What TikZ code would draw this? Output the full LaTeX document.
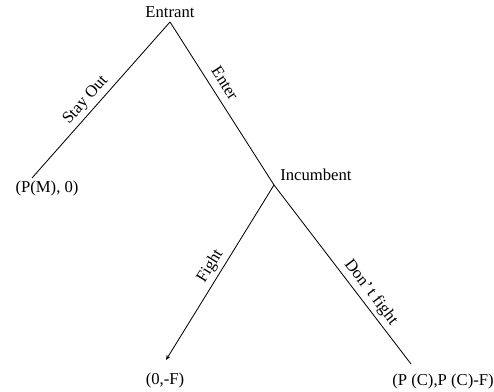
\documentclass[tikz,border=0pt]{standalone}
\usepackage{fontspec}
\setmainfont{Liberation Serif}
\usetikzlibrary{arrows.meta, positioning}
\tikzset{
  branch/.style={draw=black, line width=0.5pt},
  move/.style={font=\fontsize{10}{12}\selectfont, sloped, above, inner sep=2pt},
  payoff/.style={font=\fontsize{10}{12}\selectfont, inner sep=0pt},
  player/.style={font=\fontsize{10}{12}\selectfont, inner sep=0pt}
}

\begin{document}
\begin{tikzpicture}[x=0.6pt, y=-0.6pt]
  \useasboundingbox (0,0) rectangle (494,392);

  % decision points and ends of the tree
  \coordinate (root) at (170,22);
  \coordinate (inc) at (274,185);
  \coordinate (outEnd) at (32,178);
  \coordinate (fightEnd) at (166,360);
  \coordinate (accEnd) at (411,364);

  \node[player] (entrant) at (170,12) {Entrant};
  \node[player, anchor=west] (incumbent) at (280,175) {Incumbent};
  \node[payoff] (payOut) at (47,188) {(P(M), 0)};
  \node[payoff] (payFight) at (165,380) {(0,-F)};
  \node[payoff] (payAcc) at (443,381) {(P (C),P (C)-F)};

  % branches
  \draw[branch] (outEnd) -- node[move, pos=0.45] {Stay Out} (root);
  \draw[branch] (root) -- node[move, pos=0.42, inner sep=4.5pt] {Enter} (inc);
  \draw[branch, {Stealth[length=3pt, width=2.5pt]}-] (fightEnd) -- node[move, pos=0.5] {Fight} (inc);
  \draw[branch] (inc) -- node[move, pos=0.64] {Don'\,t fight} (accEnd);
\end{tikzpicture}
\end{document}
